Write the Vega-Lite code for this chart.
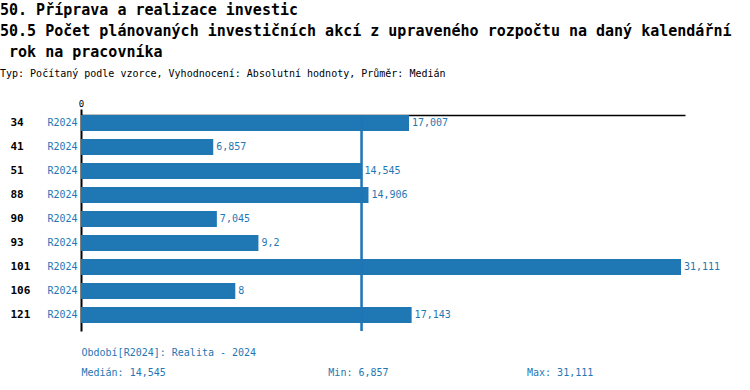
{
  "$schema": "https://vega.github.io/schema/vega-lite/v6.json",
  "width": 604,
  "height": 216,
  "autosize": {"type": "pad"},
  "padding": {"left": 0, "top": 3, "right": 0, "bottom": 0},
  "background": "white",
  "title": {
    "text": ["50. Příprava a realizace investic", "50.5 Počet plánovaných investičních akcí z upraveného rozpočtu na daný kalendářní", "\u200b\u00a0rok na pracovníka"],
    "subtitle": "Typ: Počítaný podle vzorce, Vyhodnocení: Absolutní hodnoty, Průměr: Medián",
    "anchor": "start",
    "frame": "group",
    "dx": -81,
    "font": "DejaVu Sans Mono",
    "fontSize": 15,
    "fontWeight": "bold",
    "color": "black",
    "lineHeight": 21,
    "subtitleFont": "DejaVu Sans Mono",
    "subtitleFontSize": 10,
    "subtitleColor": "black",
    "subtitlePadding": 9,
    "offset": 20
  },
  "data": {
    "values": [
      {"id": "34", "period": "R2024", "v": 17.007},
      {"id": "41", "period": "R2024", "v": 6.857},
      {"id": "51", "period": "R2024", "v": 14.545},
      {"id": "88", "period": "R2024", "v": 14.906},
      {"id": "90", "period": "R2024", "v": 7.045},
      {"id": "93", "period": "R2024", "v": 9.2},
      {"id": "101", "period": "R2024", "v": 31.111},
      {"id": "106", "period": "R2024", "v": 8},
      {"id": "121", "period": "R2024", "v": 17.143}
    ]
  },
  "layer": [
    {
      "mark": {"type": "bar", "color": "#1f77b4"},
      "encoding": {
        "x": {
          "field": "v", "type": "quantitative",
          "scale": {"domain": [0, 31.318], "nice": false, "zero": true},
          "axis": {
            "orient": "top", "values": [0], "title": null, "grid": false,
            "domainColor": "black", "domainWidth": 1.5,
            "tickColor": "black", "tickSize": 6, "tickWidth": 2,
            "labelFont": "DejaVu Sans Mono", "labelFontSize": 9, "labelColor": "black", "labelPadding": 1,
            "labelFlush": false,
            "format": "d"
          }
        },
        "y": {
          "field": "id", "type": "nominal", "sort": null,
          "scale": {"paddingInner": 0.33333, "paddingOuter": 0.166667, "align": 0},
          "axis": {
            "orient": "left", "title": null, "grid": false,
            "domain": true, "domainColor": "black", "domainWidth": 2,
            "ticks": false, "tickSize": 0,
            "labelExpr": "'R2024'",
            "labelFont": "DejaVu Sans Mono", "labelFontSize": 10, "labelColor": "#1f77b4", "labelPadding": 4
          }
        }
      }
    },
    {
      "mark": {"type": "rule", "stroke": "#1f77b4", "strokeWidth": 1.3, "opacity": 1},
      "encoding": {
        "x": {"datum": 14.545, "type": "quantitative", "axis": null},
        "color": {"value": "#1f77b4"}
      }
    },
    {
      "mark": {"type": "text", "align": "left", "baseline": "middle", "dx": 3, "color": "#1f77b4", "font": "DejaVu Sans Mono", "fontSize": 10},
      "encoding": {
        "x": {
          "field": "v", "type": "quantitative",
          "axis": {
            "orient": "bottom", "domain": false, "ticks": false, "labels": false, "grid": false,
            "title": ["Období[R2024]: Realita - 2024", "Medián: 14,545\u00a0\u00a0\u00a0\u00a0\u00a0\u00a0\u00a0\u00a0\u00a0\u00a0\u00a0\u00a0\u00a0\u00a0\u00a0\u00a0\u00a0\u00a0\u00a0\u00a0\u00a0\u00a0\u00a0\u00a0\u00a0\u00a0\u00a0Min: 6,857\u00a0\u00a0\u00a0\u00a0\u00a0\u00a0\u00a0\u00a0\u00a0\u00a0\u00a0\u00a0\u00a0\u00a0\u00a0\u00a0\u00a0\u00a0\u00a0\u00a0\u00a0\u00a0\u00a0Max: 31,111"],
            "titleAnchor": "start", "titleAlign": "left",
            "titleFont": "DejaVu Sans Mono", "titleFontSize": 10, "titleFontWeight": "normal",
            "titleColor": "#1f77b4", "titleLineHeight": 20, "titlePadding": 16
          }
        },
        "y": {
          "field": "id", "type": "nominal", "sort": null,
          "axis": {
            "orient": "left", "title": null, "grid": false, "domain": false,
            "ticks": false, "tickSize": 0,
            "labelAlign": "left", "labelPadding": 71,
            "labelFont": "DejaVu Sans Mono", "labelFontSize": 11, "labelFontWeight": "bold", "labelColor": "black"
          }
        },
        "text": {"field": "v", "type": "quantitative", "format": ".3~f"}
      }
    }
  ],
  "resolve": {"axis": {"x": "independent", "y": "independent"}},
  "config": {
    "view": {"stroke": null},
    "locale": {"number": {"decimal": ",", "thousands": " ", "grouping": [3], "currency": ["", " Kč"]}}
  }
}
